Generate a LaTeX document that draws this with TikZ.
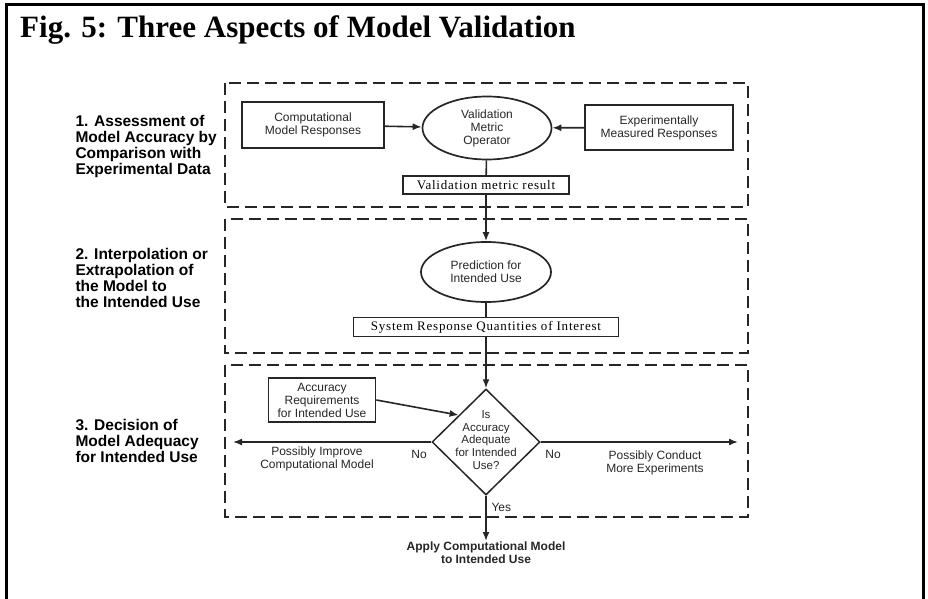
\documentclass[tikz,border=0pt]{standalone}
\usepackage{fontspec}
\setmainfont{Liberation Serif}
\setsansfont{Liberation Sans}
\usetikzlibrary{arrows.meta, shapes.geometric}

\tikzset{
  stage/.style={draw=black!85, line width=2.6pt, dash pattern=on 12pt off 6pt},
  txt/.style={font=\sffamily\fontsize{12}{13}\selectfont, align=center, text=black!85},
  aspect/.style={font=\sffamily\bfseries\fontsize{15.5}{16}\selectfont, align=left, anchor=west},
  block/.style={txt, draw=black!85, line width=1.7pt, inner sep=2pt},
  oval/.style={txt, ellipse, draw=black!85, line width=1.7pt, inner sep=0pt},
  result/.style={draw=black!85, line width=1.2pt, inner sep=1.5pt,
    font=\addfontfeature{LetterSpace=6}\fontsize{13}{13}\selectfont},
  arr/.style={draw=black!85, line width=1.6pt, -{Latex[length=9pt,width=7pt]}},
  link/.style={draw=black!85, line width=1.6pt}
}

\begin{document}
\begin{tikzpicture}[x=1pt, y=-1pt]
\useasboundingbox (0,0) rectangle (928,599);

% outer frame, open at the bottom
\draw[line width=3pt] (6,599) -- (6,5) -- (923,5) -- (923,599);
\node[anchor=base west, font=\bfseries\fontsize{31}{31}\selectfont, inner sep=0pt]
  (title) at (20,38) {Fig. 5: Three Aspects of Model Validation};

% the three stages
\draw[stage] (225,83) rectangle (748,207);
\draw[stage] (225,219) rectangle (748,353);
\draw[stage] (225,365) rectangle (748,517);

\node[aspect] (lab1) at (72,146) {1. Assessment of\\Model Accuracy by\\Comparison with\\Experimental Data};
\node[aspect] (lab2) at (72,278) {2. Interpolation or\\Extrapolation of\\the Model to\\the Intended Use};
\node[aspect] (lab3) at (72,441) {3. Decision of\\Model Adequacy\\for Intended Use};

% stage 1
\node[block, minimum width=142pt, minimum height=46pt] (comp) at (313,125) {Computational\\Model Responses};
\node[oval, minimum width=129pt, minimum height=63pt] (vmo) at (487,128) {Validation\\Metric\\Operator};
\node[block, minimum width=148pt, minimum height=45pt] (exp) at (659,127.5) {Experimentally\\Measured Responses};
\node[result, minimum width=166pt, minimum height=18pt] (vmr) at (486,185) {Validation metric result};

\draw[arr] (comp) -- (vmo);
\draw[arr] (exp) -- (vmo);
\draw[link] (vmo) -- (vmr);

% stage 2
\node[oval, minimum width=130pt, minimum height=60pt] (pred) at (486,272) {Prediction for\\Intended Use};
\node[result, minimum width=265pt, minimum height=19pt] (srq) at (486,327) {System Response Quantities of Interest};

\draw[arr] (vmr) -- (pred);
\draw[link] (pred) -- (srq);

% stage 3
\node[block, minimum width=107pt, minimum height=44pt] (acc) at (322,400) {Accuracy\\Requirements\\for Intended Use};
\node[diamond, draw=black!85, line width=1.5pt, minimum width=108pt, minimum height=106pt, inner sep=0pt] (dec) at (486,442) {};
\node[txt, font=\sffamily\fontsize{11.5}{12.6}\selectfont] (decq) at (486,440) {Is\\Accuracy\\Adequate\\for Intended\\Use?};

\coordinate (west end) at (233,442);
\coordinate (east end) at (738,442);

\draw[arr] (srq) -- (dec.north);
\draw[arr] (acc.east) -- (dec.north west);
\draw[arr] (dec.west) -- (west end);
\draw[arr] (dec.east) -- (east end);

\node[txt] (nol) at (419,454) {No};
\node[txt] (nor) at (553,454) {No};
\node[txt] (impr) at (317,459) {Possibly Improve\\Computational Model};
\node[txt] (more) at (655,463) {Possibly Conduct\\More Experiments};

% leaving the last stage
\node[txt, font=\sffamily\bfseries\fontsize{12}{13}\selectfont, anchor=north, inner sep=1pt] (apply) at (486,541) {Apply Computational Model\\to Intended Use};
\draw[arr] (dec.south) -- (apply.north);
\node[txt, anchor=west] (yes) at (488,507) {Yes};
\end{tikzpicture}
\end{document}
